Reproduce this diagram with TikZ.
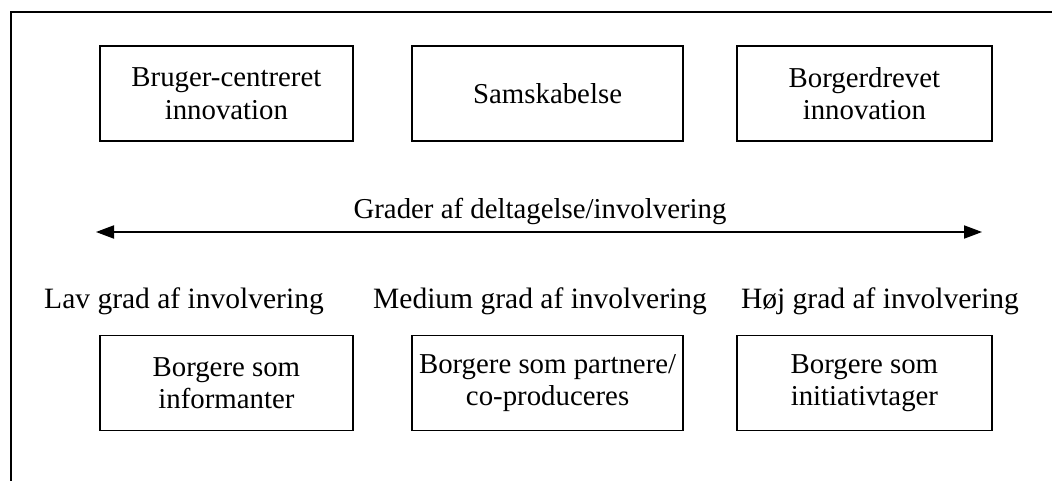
\documentclass[tikz,border=0pt]{standalone}
\usepackage{fontspec}
\setmainfont{Liberation Serif}
\usetikzlibrary{arrows.meta}
\tikzset{
  boks/.style={draw, line width=0.9pt, align=center, minimum height=2.375cm, inner sep=2pt},
  tekst/.style={anchor=base, inner sep=0pt},
  grad/.style={tekst, font=\fontsize{21}{23}\selectfont}
}
\begin{document}
\begin{tikzpicture}[font=\fontsize{20.5}{23}\selectfont]
\useasboundingbox (0,0) rectangle (26.3,12);
\draw[line width=0.9pt] (0.275,-1) -- (0.275,11.7) -- (27,11.7);
\node[boks, minimum width=6.325cm] (bruger) at (5.66,9.66) {Bruger-centreret\\innovation};
\node[boks, minimum width=6.775cm] (samskab) at (13.69,9.66) {Samskabelse};
\node[boks, minimum width=6.375cm] (borgerdr) at (21.61,9.66) {Borgerdrevet\\innovation};
\node[tekst] (grader) at (13.5,6.55) {Grader af deltagelse/involvering};
\coordinate (venstre) at (2.4,6.2);
\coordinate (hoejre) at (24.55,6.2);
\draw[line width=0.9pt, {Triangle[length=0.45cm,width=0.33cm]}-{Triangle[length=0.45cm,width=0.33cm]}] (venstre) -- (hoejre);
\node[grad] (lav) at (4.6,4.3) {Lav grad af involvering};
\node[grad] (medium) at (13.5,4.3) {Medium grad af involvering};
\node[grad] (hoej) at (22.0,4.3) {Høj grad af involvering};
\node[boks, minimum width=6.325cm] (informant) at (5.66,2.425) {Borgere som\\informanter};
\node[boks, minimum width=6.775cm] (partner) at (13.69,2.425) {Borgere som partnere/\\co-produceres};
\node[boks, minimum width=6.375cm] (initiativ) at (21.61,2.425) {Borgere som\\initiativtager};
\end{tikzpicture}
\end{document}
